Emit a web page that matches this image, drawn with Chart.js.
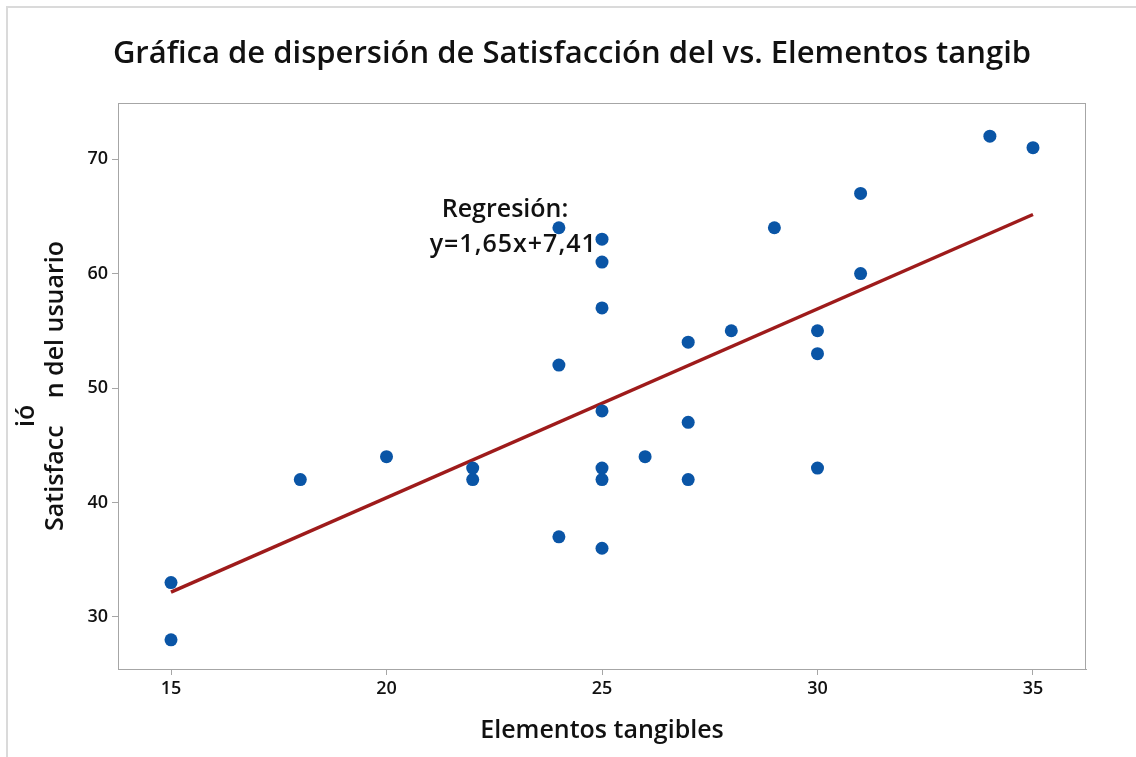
<!DOCTYPE html>
<html>
<head>
<meta charset="utf-8">
<title>Gráfica de dispersión</title>
<script src="https://cdn.jsdelivr.net/npm/chart.js@4.4.1/dist/chart.umd.min.js"></script>
<style>
  html, body { margin: 0; padding: 0; background: #fff; }
  canvas { display: block; }
</style>
</head>
<body>
<canvas id="chart" width="1136" height="757"></canvas>
<script>
// data
const elementos = [15, 15, 18, 20, 22, 22, 24, 24, 24, 25, 25, 25, 25, 25, 25, 25, 26, 27, 27, 27, 28, 29, 30, 30, 30, 31, 31, 34, 35];
const satisfaccion = [33, 28, 42, 44, 43, 42, 64, 52, 37, 63, 61, 57, 48, 43, 42, 36, 44, 54, 47, 42, 55, 64, 55, 53, 43, 67, 60, 72, 71];
const xTicks = [15, 20, 25, 30, 35];
const yTicks = [30, 40, 50, 60, 70];
const slope = 1.65;
const intercept = 7.41;
const fitRange = [15, 35];

const titleText = 'Gráfica de dispersión de Satisfacción del vs. Elementos tangib';
const xTitle = 'Elementos tangibles';
const yTitleParts = ['Satisfacc', 'n del usuario', 'ió'];
const regLines = ['Regresión:', 'y=1,65x+7,41'];

const FONT = '"Open Sans", "Noto Sans", sans-serif';
const INK = '#111';

const fitPoints = fitRange.map(x => ({ x: x, y: slope * x + intercept }));
const scatterPoints = elementos.map((x, i) => ({ x: x, y: satisfaccion[i] }));

const decor = {
  id: 'decor',
  beforeDraw(chart) {
    const ctx = chart.ctx;
    ctx.save();
    ctx.fillStyle = '#fff';
    ctx.fillRect(0, 0, chart.width, chart.height);
    // light outer border (top + left)
    ctx.strokeStyle = '#dadada';
    ctx.lineWidth = 2;
    ctx.beginPath();
    ctx.moveTo(7, chart.height);
    ctx.lineTo(7, 7);
    ctx.lineTo(chart.width, 7);
    ctx.stroke();
    ctx.restore();
  },
  beforeDatasetsDraw(chart) {
    // regression label, placed in data units
    const ctx = chart.ctx;
    const xs = chart.scales.x, ys = chart.scales.y;
    ctx.save();
    ctx.fillStyle = INK;
    ctx.font = '600 25px ' + FONT;
    ctx.textAlign = 'center';
    ctx.textBaseline = 'alphabetic';
    ctx.fillText(regLines[0], xs.getPixelForValue(22.75), ys.getPixelForValue(64.9));
    ctx.letterSpacing = '1px';
    ctx.fillText(regLines[1], xs.getPixelForValue(22.94), ys.getPixelForValue(61.85));
    ctx.restore();
  },
  afterDraw(chart) {
    const ctx = chart.ctx;
    const a = chart.chartArea;
    ctx.save();
    // frame round the plot
    ctx.strokeStyle = '#a6a6a6';
    ctx.lineWidth = 1;
    ctx.strokeRect(a.left + 0.5, a.top + 0.5, a.right - a.left - 1, a.bottom - a.top);

    ctx.fillStyle = INK;
    ctx.textBaseline = 'alphabetic';

    // main title
    ctx.font = '600 31px ' + FONT;
    ctx.textAlign = 'center';
    ctx.fillText(titleText, 572, 63);

    // x title
    ctx.font = '600 25px ' + FONT;
    ctx.fillText(xTitle, (a.left + a.right) / 2, 738);

    // y title, broken like in the original
    const cy = (a.top + a.bottom) / 2;
    const gap = 27;
    const w1 = ctx.measureText(yTitleParts[0]).width;
    const w2 = ctx.measureText(yTitleParts[1]).width;
    const total = w1 + gap + w2;
    ctx.save();
    ctx.translate(63, cy + total / 2);
    ctx.rotate(-Math.PI / 2);
    ctx.textAlign = 'left';
    ctx.fillText(yTitleParts[0], 0, 0);
    ctx.fillText(yTitleParts[1], w1 + gap, 0);
    ctx.restore();
    ctx.save();
    ctx.translate(34, cy + total / 2 - w1 - gap / 2 + 4);
    ctx.rotate(-Math.PI / 2);
    ctx.textAlign = 'center';
    ctx.fillText(yTitleParts[2], 0, 0);
    ctx.restore();

    ctx.restore();
  }
};

new Chart(document.getElementById('chart'), {
  type: 'scatter',
  data: {
    datasets: [
      {
        label: 'Satisfacción del usuario',
        data: scatterPoints,
        backgroundColor: '#0a55a6',
        borderColor: '#0a55a6',
        pointRadius: 6.5,
        pointBorderWidth: 0,
        order: 1
      },
      {
        type: 'line',
        label: 'Regresión',
        data: fitPoints,
        borderColor: '#9e1b1b',
        borderWidth: 3.5,
        pointRadius: 0,
        fill: false,
        order: 2
      }
    ]
  },
  options: {
    responsive: false,
    animation: false,
    layout: { padding: { left: 0, right: 50, top: 103, bottom: 0 } },
    plugins: {
      legend: { display: false },
      tooltip: { enabled: false },
      title: { display: false }
    },
    scales: {
      x: {
        type: 'linear',
        min: 13.77,
        max: 36.23,
        afterBuildTicks: s => { s.ticks = xTicks.map(v => ({ value: v })); },
        afterFit: s => { s.height = 88; },
        grid: { drawOnChartArea: false, drawTicks: true, tickLength: 6, color: '#a6a6a6' },
        border: { display: true, color: '#a6a6a6' },
        ticks: { padding: 3, color: INK, font: { family: FONT, size: 18, weight: '600' } }
      },
      y: {
        type: 'linear',
        min: 25.45,
        max: 74.9,
        afterBuildTicks: s => { s.ticks = yTicks.map(v => ({ value: v })); },
        afterFit: s => { s.width = 118; },
        grid: { drawOnChartArea: false, drawTicks: true, tickLength: 6, color: '#a6a6a6' },
        border: { display: true, color: '#a6a6a6' },
        ticks: { padding: 4, color: INK, font: { family: FONT, size: 18, weight: '600' } }
      }
    }
  },
  plugins: [decor]
});
</script>
</body>
</html>
